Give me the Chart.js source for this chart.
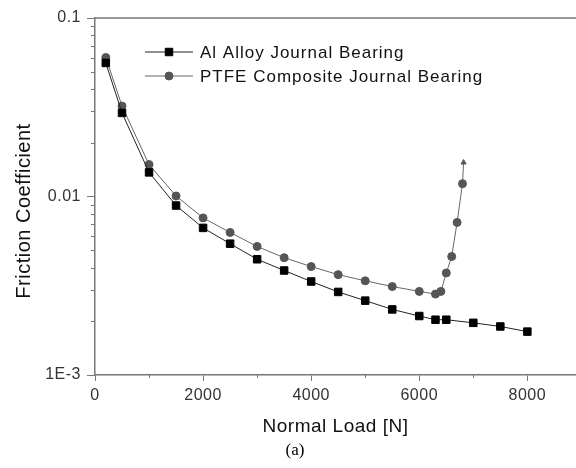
<!DOCTYPE html>
<html>
<head>
<meta charset="utf-8">
<script src="https://cdn.jsdelivr.net/npm/chart.js@4/dist/chart.umd.min.js"></script>
<style>
  html, body { margin: 0; padding: 0; background: #fff; overflow: hidden; }
  #wrap { width: 576px; height: 468px; }
  canvas { display: block; }
</style>
</head>
<body>
<div id="wrap"><canvas id="frictionChart"></canvas></div>
<script>
// Normal load [N] and friction coefficient
const alLoads = [200, 500, 1000, 1500, 2000, 2500, 3000, 3500, 4000, 4500, 5000, 5500, 6000, 6300, 6500, 7000, 7500, 8000]
const alFriction = [0.056, 0.0294, 0.01365, 0.0089, 0.00667, 0.00544, 0.00445, 0.00385, 0.00334, 0.00292, 0.00261, 0.00233, 0.00214, 0.00204, 0.00204, 0.00196, 0.00187, 0.00175]

// last point is the arrow head (friction keeps rising)
const ptfeLoads = [200, 500, 1000, 1500, 2000, 2500, 3000, 3500, 4000, 4500, 5000, 5500, 6000, 6300, 6400, 6500, 6600, 6700, 6800, 6820]
const ptfeFriction = [0.0601, 0.0321, 0.0151, 0.01007, 0.00759, 0.00629, 0.00525, 0.00454, 0.00405, 0.00365, 0.00337, 0.00313, 0.00294, 0.00284, 0.00294, 0.00373, 0.00461, 0.00716, 0.0118, 0.0155]

const seriesNames = ['Al Alloy Journal Bearing', 'PTFE Composite Journal Bearing']

// tick positions and labels
const xTicks = [0, 1000, 2000, 3000, 4000, 5000, 6000, 7000, 8000]
const xTickLabels = ['0', '', '2000', '', '4000', '', '6000', '', '8000']
const yDecades = [0.001, 0.01, 0.1]
const yDecadeLabels = ['1E-3', '0.01', '0.1']
const yMinorSteps = [2, 3, 4, 5, 6, 7, 8, 9]

const FONT = "'Liberation Sans', Arial, sans-serif"
const AXIS_COLOR = '#777'

const toPoints = (xs, ys) => xs.map((x, i) => ({ x: x, y: ys[i] }))

const isDecade = v => yDecades.some(d => Math.abs(v - d) < d * 1e-6)

const ptfeStyles = ptfeLoads.map((x, i) => i === ptfeLoads.length - 1 ? 'triangle' : 'circle')
const ptfeRadius = ptfeLoads.map((x, i) => i === ptfeLoads.length - 1 ? 3 : 4)

/**
 * Draws minor ticks, the top frame line, the y title, the caption and the in-plot legend.
 */
const extrasPlugin = {
  id: 'extras',
  beforeDraw (chart) {
    // the original lettering is slightly spaced out
    chart.ctx.letterSpacing = '0.5px'
  },
  afterDraw (chart) {
    const ctx = chart.ctx
    const area = chart.chartArea
    const xScale = chart.scales.x
    const yScale = chart.scales.y

    ctx.save()
    ctx.strokeStyle = AXIS_COLOR
    ctx.lineWidth = 1.5

    // top frame line
    ctx.beginPath()
    ctx.moveTo(area.left, area.top)
    ctx.lineTo(area.right, area.top)
    ctx.stroke()

    // minor ticks
    ctx.lineWidth = 1
    ctx.beginPath()
    xTicks.forEach((v, i) => {
      if (xTickLabels[i] !== '') return
      const px = Math.round(xScale.getPixelForValue(v)) + 0.5
      ctx.moveTo(px, area.bottom)
      ctx.lineTo(px, area.bottom + 3)
    })
    yDecades.slice(0, -1).forEach(d => {
      yMinorSteps.forEach(m => {
        const py = Math.round(yScale.getPixelForValue(d * m)) + 0.5
        ctx.moveTo(area.left, py)
        ctx.lineTo(area.left - 4, py)
      })
    })
    ctx.stroke()

    // y axis title (sits a little below the axis centre in the original)
    ctx.save()
    ctx.translate(24, 211)
    ctx.rotate(-Math.PI / 2)
    ctx.fillStyle = '#111'
    ctx.font = '20px ' + FONT
    ctx.textAlign = 'center'
    ctx.textBaseline = 'middle'
    ctx.fillText('Friction Coefficient', 0, 0)
    ctx.restore()

    // caption
    ctx.fillStyle = '#000'
    ctx.font = "17px 'Liberation Serif', 'Times New Roman', serif"
    ctx.letterSpacing = '0px'
    ctx.textAlign = 'center'
    ctx.textBaseline = 'middle'
    ctx.fillText('(a)', 295, 451)

    // legend with line + marker samples
    const lx = area.left + 50
    const ly = area.top + 34
    chart.data.datasets.forEach((ds, i) => {
      const y = ly + i * 24
      ctx.strokeStyle = ds.borderColor
      ctx.lineWidth = 1
      ctx.beginPath()
      ctx.moveTo(lx, y)
      ctx.lineTo(lx + 48, y)
      ctx.stroke()
      const style = Array.isArray(ds.pointStyle) ? ds.pointStyle[0] : ds.pointStyle
      const radius = Array.isArray(ds.pointRadius) ? ds.pointRadius[0] : ds.pointRadius
      ctx.fillStyle = ds.pointBackgroundColor
      ctx.strokeStyle = ds.pointBorderColor
      Chart.helpers.drawPoint(ctx, { pointStyle: style, radius: radius, borderWidth: 1 }, lx + 24, y)
      ctx.fillStyle = '#111'
      ctx.font = '17px ' + FONT
      ctx.letterSpacing = '1px'
      ctx.textBaseline = 'middle'
      ctx.textAlign = 'left'
      ctx.fillText(ds.label, lx + 55, y + 1)
    })
    ctx.restore()
  }
}

const chart = new Chart(document.getElementById('frictionChart'), {
  type: 'line',
  data: {
    datasets: [
      {
        label: seriesNames[0],
        data: toPoints(alLoads, alFriction),
        borderColor: '#222',
        borderWidth: 1,
        pointStyle: 'rect',
        pointRadius: 5.3,
        pointBackgroundColor: '#000',
        pointBorderColor: '#000',
        pointBorderWidth: 1,
        tension: 0
      },
      {
        label: seriesNames[1],
        data: toPoints(ptfeLoads, ptfeFriction),
        borderColor: '#666',
        borderWidth: 1,
        pointStyle: ptfeStyles,
        pointRadius: ptfeRadius,
        pointBackgroundColor: '#555',
        pointBorderColor: '#555',
        pointBorderWidth: 1,
        tension: 0
      }
    ]
  },
  options: {
    responsive: true,
    maintainAspectRatio: false,
    animation: false,
    layout: {
      // no automatic padding: the x axis runs off the right edge in the original
      autoPadding: false,
      padding: { top: 18, left: 0, right: 0, bottom: 0 }
    },
    scales: {
      x: {
        type: 'linear',
        min: 0,
        max: 8900,
        afterBuildTicks: scale => { scale.ticks = xTicks.map(v => ({ value: v })) },
        afterFit: scale => {
          scale.height = 93
          scale.paddingLeft = 0
          scale.paddingRight = 0
        },
        border: { color: AXIS_COLOR, width: 1.5 },
        grid: {
          drawOnChartArea: false,
          tickLength: 6,
          tickColor: c => (c.tick && xTickLabels[xTicks.indexOf(c.tick.value)] !== '') ? AXIS_COLOR : 'rgba(0,0,0,0)'
        },
        ticks: {
          autoSkip: false,
          maxRotation: 0,
          padding: 5,
          color: '#333',
          font: { family: FONT, size: 16 },
          callback: value => xTickLabels[xTicks.indexOf(value)] || ''
        },
        title: {
          display: true,
          text: 'Normal Load [N]',
          color: '#111',
          font: { family: FONT, size: 19 },
          padding: { top: 0, bottom: 30 }
        }
      },
      y: {
        type: 'logarithmic',
        min: 0.001,
        max: 0.1,
        afterBuildTicks: scale => {
          const ticks = []
          yDecades.forEach((d, i) => {
            ticks.push({ value: d })
            if (i < yDecades.length - 1) yMinorSteps.forEach(m => ticks.push({ value: d * m }))
          })
          scale.ticks = ticks
        },
        afterFit: scale => { scale.width = 95 },
        border: { color: AXIS_COLOR, width: 1.5 },
        grid: {
          drawOnChartArea: false,
          tickLength: 8,
          tickColor: c => (c.tick && isDecade(c.tick.value)) ? AXIS_COLOR : 'rgba(0,0,0,0)'
        },
        ticks: {
          autoSkip: false,
          padding: 6,
          color: '#333',
          font: { family: FONT, size: 16 },
          callback: value => {
            const i = yDecades.findIndex(d => Math.abs(value - d) < d * 1e-6)
            return i >= 0 ? yDecadeLabels[i] : ''
          }
        },
        title: { display: false }
      }
    },
    plugins: {
      legend: { display: false },
      tooltip: { enabled: false },
      title: { display: false }
    }
  },
  plugins: [extrasPlugin]
})
</script>
</body>
</html>
